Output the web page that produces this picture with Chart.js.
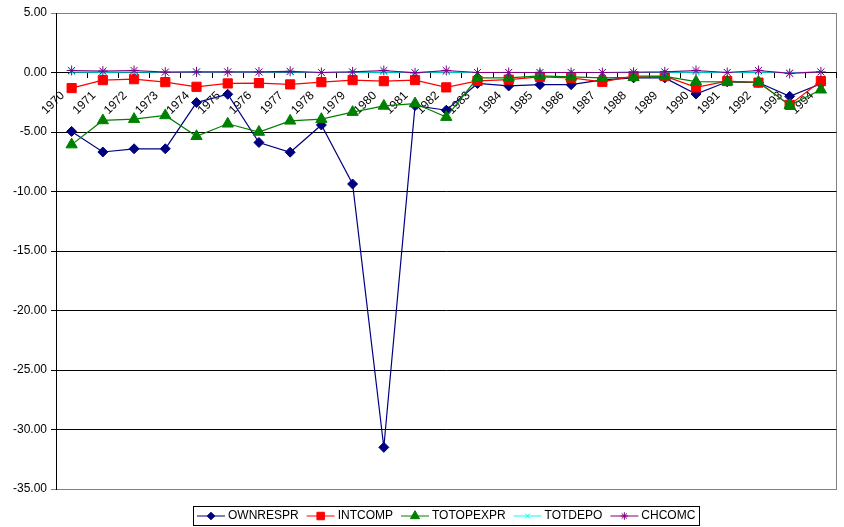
<!DOCTYPE html>
<html>
<head>
<meta charset="utf-8">
<script src="https://cdn.jsdelivr.net/npm/chart.js@4/dist/chart.umd.min.js"></script>
<style>
  html, body { margin: 0; padding: 0; background: #fff; }
  #wrap { width: 844px; height: 527px; }
</style>
</head>
<body>
<div id="wrap"><canvas id="c" width="844" height="527"></canvas></div>
<script>
// Categories and series values
const years = ['1970','1971','1972','1973','1974','1975','1976','1977','1978','1979',
               '1980','1981','1982','1983','1984','1985','1986','1987','1988','1989',
               '1990','1991','1992','1993','1994'];
const ownrespr  = [-4.95, -6.68, -6.41, -6.41, -2.53, -1.83, -5.88, -6.70, -4.41, -9.37,
                   -31.5, -2.78, -3.17, -0.92, -1.13, -1.02, -1.02, -0.62, -0.45, -0.45,
                   -1.81, -0.78, -0.84, -2.00, -0.95];
const intcomp   = [-1.31, -0.64, -0.56, -0.81, -1.20, -0.92, -0.89, -1.00, -0.81, -0.64,
                   -0.73, -0.64, -1.25, -0.71, -0.60, -0.36, -0.45, -0.78, -0.30, -0.30,
                   -1.25, -0.72, -0.85, -2.72, -0.72];
const totopexpr = [-6.06, -4.03, -3.92, -3.61, -5.36, -4.31, -5.00, -4.06, -3.92, -3.33,
                   -2.81, -2.61, -3.75, -0.45, -0.45, -0.28, -0.36, -0.45, -0.40, -0.33,
                   -0.77, -0.78, -0.80, -2.75, -1.45];
const totdepo   = [0.05, 0.03, 0.04, 0.02, 0.03, 0.02, 0.02, 0.04, 0.01, 0.03,
                   0.05, 0.01, 0.06, 0.00, 0.01, 0.00, 0.01, 0.00, 0.02, 0.02,
                   0.05, 0.01, 0.04, 0.00, 0.03];
const chcomc    = [0.17, 0.12, 0.17, 0.03, 0.05, 0.05, 0.05, 0.10, 0.00, 0.05,
                   0.17, -0.03, 0.17, 0.00, 0.00, 0.00, 0.00, 0.00, 0.02, 0.05,
                   0.17, 0.00, 0.17, -0.08, 0.05];
const seriesNames = ['OWNRESPR', 'INTCOMP', 'TOTOPEXPR', 'TOTDEPO', 'CHCOMC'];
const yMin = -35, yMax = 5, yStep = 5;

const FONT = '"Liberation Sans", Arial, sans-serif';

function series(i, data, color, style, radius) {
  return {
    label: seriesNames[i],
    data: data,
    borderColor: color,
    backgroundColor: color,
    borderWidth: 1.2,
    pointStyle: style,
    pointRadius: radius,
    pointBorderWidth: 1,
    pointBorderColor: color,
    pointBackgroundColor: color,
    tension: 0,
    fill: false,
    order: 4 - i   // later series paint over earlier ones
  };
}

// Gray frame around the plot area
const framePlugin = {
  id: 'plotFrame',
  beforeDraw(chart) {
    const a = chart.chartArea, ctx = chart.ctx;
    ctx.save();
    ctx.strokeStyle = '#808080';
    ctx.lineWidth = 1;
    ctx.strokeRect(Math.round(a.left) + 0.5, Math.round(a.top) + 0.5,
                   Math.round(a.right - a.left), Math.round(a.bottom - a.top));
    ctx.restore();
  }
};

// Boxed legend below the plot with line + marker samples
const boxLegend = {
  id: 'boxLegend',
  afterDraw(chart) {
    const ctx = chart.ctx;
    const dsets = chart.data.datasets;
    ctx.save();
    ctx.font = '12px ' + FONT;
    const sample = 28, gapT = 3, gapI = 8, padX = 4;
    const widths = dsets.map(d => ctx.measureText(d.label).width);
    let total = padX * 2;
    widths.forEach((w, i) => { total += sample + gapT + w + (i < widths.length - 1 ? gapI : 0); });
    const cx = (chart.chartArea.left + chart.chartArea.right) / 2;
    const left = Math.round(cx - total / 2), top = 506, h = 19;
    ctx.fillStyle = '#fff';
    ctx.fillRect(left, top, total, h);
    ctx.strokeStyle = '#000';
    ctx.lineWidth = 1;
    ctx.strokeRect(left + 0.5, top + 0.5, Math.round(total), h);
    const cy = top + h / 2 + 0.5;
    let x = left + padX;
    dsets.forEach((d, i) => {
      ctx.strokeStyle = d.borderColor;
      ctx.fillStyle = d.backgroundColor;
      ctx.lineWidth = 1;
      ctx.beginPath();
      ctx.moveTo(x, cy);
      ctx.lineTo(x + sample, cy);
      ctx.stroke();
      if (Chart.helpers && Chart.helpers.drawPoint) {
        Chart.helpers.drawPoint(ctx, {
          pointStyle: d.pointStyle,
          radius: Math.max(3.5, d.pointRadius - 1.2),
          rotation: 0,
          borderWidth: 1
        }, x + sample / 2, cy);
      }
      ctx.fillStyle = '#000';
      ctx.textBaseline = 'middle';
      ctx.textAlign = 'left';
      ctx.fillText(d.label, x + sample + gapT, cy);
      x += sample + gapT + widths[i] + gapI;
    });
    ctx.restore();
  }
};

new Chart(document.getElementById('c'), {
  type: 'line',
  data: {
    labels: years,
    datasets: [
      series(0, ownrespr,  '#000080', 'rectRot',  5),
      series(1, intcomp,   '#FF0000', 'rect',     6.5),
      series(2, totopexpr, '#008000', 'triangle', 6.5),
      series(3, totdepo,   '#00FFFF', 'crossRot', 4.5),
      series(4, chcomc,    '#800080', 'star',     5)
    ]
  },
  options: {
    responsive: false,
    animation: false,
    devicePixelRatio: 1,
    layout: { padding: { top: 13, left: 9, right: 3, bottom: 38 } },
    plugins: {
      legend: { display: false },
      tooltip: { enabled: false }
    },
    scales: {
      x: {
        type: 'category',
        position: { y: 0 },
        offset: true,
        // the rotated labels sit inside the plot, so they need no side room
        afterFit: s => { s.paddingRight = 0; s.paddingLeft = 0; },
        grid: {
          offset: true,
          drawOnChartArea: false,
          drawTicks: true,
          tickLength: 5,
          color: '#000'
        },
        border: { display: true, color: '#000', width: 1 },
        ticks: {
          autoSkip: false,
          minRotation: 45,
          maxRotation: 45,
          padding: 11,
          labelOffset: -9,
          color: '#000',
          font: { family: FONT, size: 12 }
        }
      },
      y: {
        min: yMin,
        max: yMax,
        ticks: {
          stepSize: yStep,
          padding: 4,
          color: '#000',
          font: { family: FONT, size: 12 },
          callback: v => Number(v).toFixed(2)
        },
        grid: {
          tickLength: 5,
          color: c => (c.tick && (c.tick.value === yMax || c.tick.value === yMin)) ? '#808080' : '#000'
        },
        border: { display: true, color: '#000', width: 1 }
      }
    }
  },
  plugins: [framePlugin, boxLegend]
});
</script>
</body>
</html>
